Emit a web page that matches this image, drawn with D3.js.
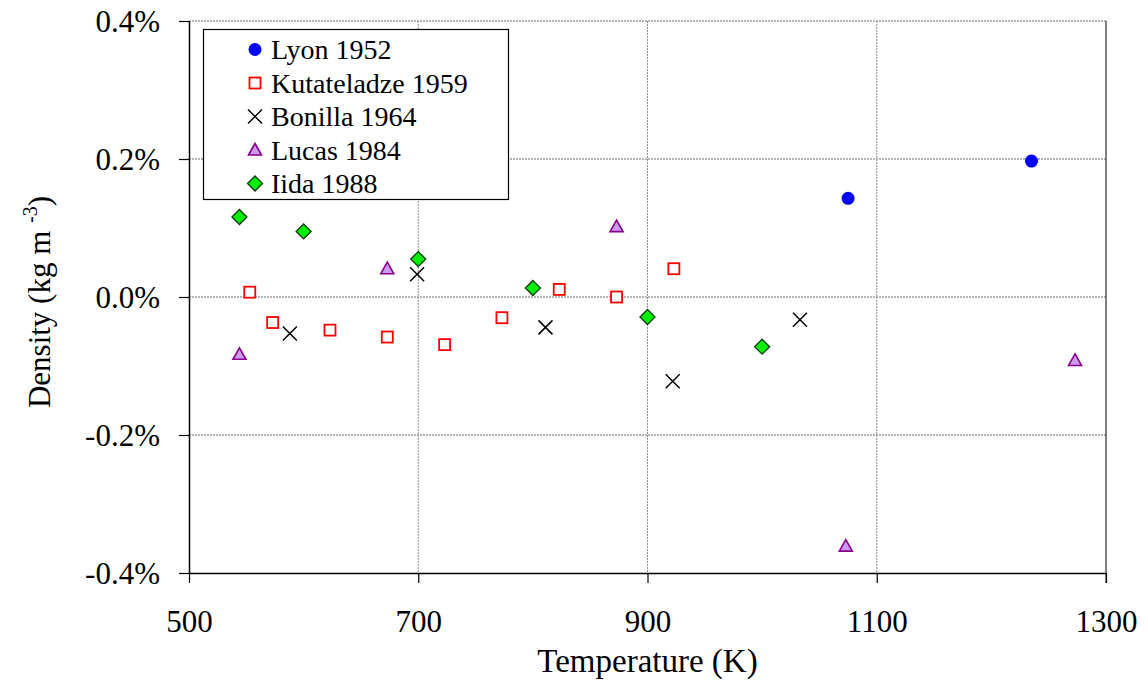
<!DOCTYPE html>
<html>
<head>
<meta charset="utf-8">
<script src="https://cdn.jsdelivr.net/npm/d3@7"></script>
<style>
  html, body { margin: 0; padding: 0; background: #fff; }
  svg { display: block; font-family: "Liberation Serif", "Times New Roman", serif; }
</style>
</head>
<body>
<svg id="chart" width="1148" height="682"></svg>
<script>
// ---- data ----
const lyonT = [1075, 1235];
const lyonD = [0.143, 0.197];

const kutT = [553, 573, 623, 673, 723, 773, 823, 873, 923];
const kutD = [0.007, -0.037, -0.048, -0.058, -0.069, -0.030, 0.011, 0.000, 0.041];

const bonT = [588, 699, 811, 922, 1033];
const bonD = [-0.053, 0.033, -0.044, -0.122, -0.033];

const lucT = [544, 673, 873, 1073, 1273];
const lucD = [-0.083, 0.041, 0.102, -0.361, -0.092];

const iidaT = [544, 600, 700, 800, 900, 1000];
const iidaD = [0.116, 0.095, 0.055, 0.013, -0.029, -0.072];

const xTicks = [500, 700, 900, 1100, 1300];
const yTicks = [-0.4, -0.2, 0.0, 0.2, 0.4];
const seriesNames = ["Lyon 1952", "Kutateladze 1959", "Bonilla 1964", "Lucas 1984", "Iida 1988"];

// ---- layout ----
const svg = d3.select("#chart");
const L = 189, R = 1106, T = 21, B = 573;
const x = d3.scaleLinear().domain([500, 1300]).range([L, R]);
const y = d3.scaleLinear().domain([-0.4, 0.4]).range([B, T]);

// gridlines
const grid = svg.append("g");
grid.selectAll("line.v").data(xTicks.filter(d => d !== 500 && d !== 1300)).enter().append("line")
  .attr("x1", d => x(d)).attr("x2", d => x(d)).attr("y1", T).attr("y2", B)
  .attr("stroke", "#8c8c8c").attr("stroke-width", 1).attr("stroke-dasharray", "2,1");
grid.selectAll("line.h").data(yTicks.filter(d => d !== -0.4)).enter().append("line")
  .attr("x1", L).attr("x2", R).attr("y1", d => y(d)).attr("y2", d => y(d))
  .attr("stroke", "#9a9a9a").attr("stroke-width", 1.3).attr("stroke-dasharray", "2,1");
grid.append("line").attr("x1", x(1300)).attr("x2", x(1300)).attr("y1", T).attr("y2", B + 10)
  .attr("stroke", "#555").attr("stroke-width", 1.5);

// axes
const loc = d3.formatLocale({ decimal: ".", thousands: ",", grouping: [3], currency: ["", ""], minus: "-" });
const fmtPct = d => loc.format(".1f")(d) + "%";
const yAxis = d3.axisLeft(y).tickValues(yTicks).tickFormat(fmtPct).tickSize(10).tickPadding(19);
const xAxis = d3.axisBottom(x).tickValues(xTicks).tickFormat(loc.format("d")).tickSize(10).tickPadding(0);

const gy = svg.append("g").attr("transform", `translate(${L},0)`).call(yAxis);
gy.select(".domain").attr("stroke", "#000").attr("stroke-width", 1.5).attr("d", `M0.5,${T}V${B}`);
gy.selectAll(".tick line").attr("stroke", "#000").attr("stroke-width", 1.2);
gy.selectAll(".tick text").attr("font-size", 31).attr("fill", "#000").attr("dy", "0.34em")
  .style("font-family", "Liberation Serif");

const gx = svg.append("g").attr("transform", `translate(0,${B})`).call(xAxis);
gx.select(".domain").attr("stroke", "#000").attr("stroke-width", 1.5).attr("d", `M${L},0.5H${R}`);
gx.selectAll(".tick line").attr("stroke", "#000").attr("stroke-width", 1.2);
gx.selectAll(".tick text").attr("font-size", 31).attr("fill", "#000").attr("y", 59).attr("dy", 0)
  .style("font-family", "Liberation Serif");

// axis titles
svg.append("text").attr("x", (L + R) / 2).attr("y", 672).attr("text-anchor", "middle")
  .attr("font-size", 33).text("Temperature (K)");

const yl = svg.append("text").attr("transform", "translate(50,302) rotate(-90)")
  .attr("text-anchor", "middle").attr("font-size", 31);
yl.append("tspan").text("Density (kg m ");
yl.append("tspan").attr("font-size", 20).attr("dy", -13).text("-3");
yl.append("tspan").attr("dy", 13).text(")");

// markers
function drawLyon(g, cx, cy) {
  g.append("circle").attr("cx", cx).attr("cy", cy).attr("r", 6.5).attr("fill", "#0000ff");
}
function drawKut(g, cx, cy) {
  g.append("rect").attr("x", cx - 5.5).attr("y", cy - 5.5).attr("width", 11).attr("height", 11)
    .attr("fill", "#fff").attr("stroke", "#ff0000").attr("stroke-width", 1.8);
}
function drawBon(g, cx, cy) {
  const s = 7;
  g.append("path").attr("d", `M${cx - s},${cy - s}L${cx + s},${cy + s}M${cx - s},${cy + s}L${cx + s},${cy - s}`)
    .attr("stroke", "#000").attr("stroke-width", 1.5).attr("fill", "none");
}
function drawLuc(g, cx, cy) {
  g.append("path").attr("d", `M${cx},${cy - 6.5}L${cx + 6.5},${cy + 5}L${cx - 6.5},${cy + 5}Z`)
    .attr("fill", "#cc99ee").attr("stroke", "#880088").attr("stroke-width", 1.6);
}
function drawIida(g, cx, cy) {
  const s = 7.5;
  g.append("path").attr("d", `M${cx},${cy - s}L${cx + s},${cy}L${cx},${cy + s}L${cx - s},${cy}Z`)
    .attr("fill", "#00ee00").attr("stroke", "#0a3a0a").attr("stroke-width", 1.3);
}

const series = [
  { t: lyonT, d: lyonD, draw: drawLyon },
  { t: kutT, d: kutD, draw: drawKut },
  { t: bonT, d: bonD, draw: drawBon },
  { t: lucT, d: lucD, draw: drawLuc },
  { t: iidaT, d: iidaD, draw: drawIida }
];

const marks = svg.append("g");
series.forEach(s => {
  const g = marks.append("g");
  s.t.forEach((tv, i) => s.draw(g, x(tv), y(s.d[i])));
});

// legend
const lg = svg.append("g");
lg.append("rect").attr("x", 203.5).attr("y", 29.5).attr("width", 305).attr("height", 170)
  .attr("fill", "#fff").attr("stroke", "#000").attr("stroke-width", 1.2);
seriesNames.forEach((name, i) => {
  const cy = 49.5 + i * 33.5;
  series[i].draw(lg, 255, cy);
  lg.append("text").attr("x", 271).attr("y", cy + 9.5).attr("font-size", 28).text(name);
});
</script>
</body>
</html>
